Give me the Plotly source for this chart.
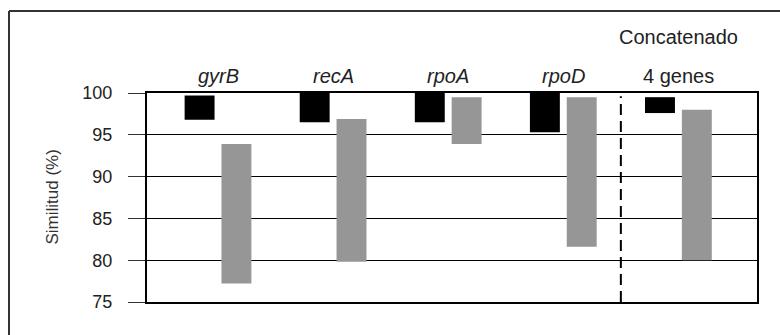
import plotly.graph_objects as go

# Gene categories along the x axis (index positions 0..4)
genes = ["gyrB", "recA", "rpoA", "rpoD", "4 genes"]
italic = [True, True, True, True, False]
group_title = "Concatenado"

# Similarity ranges (%) per gene: intra (black) and inter (gray)
black_low = [96.8, 96.5, 96.5, 95.3, 97.6]
black_high = [99.7, 100.0, 100.0, 100.0, 99.5]
gray_low = [77.2, 79.8, 93.9, 81.6, 80.0]
gray_high = [93.9, 96.9, 99.5, 99.5, 98.0]

y_ticks = [75, 80, 85, 90, 95, 100]

W, H = 780, 335
L, R, T, B = 147, 23, 93, 33
pw, ph = W - L - R, H - T - B

x = list(range(len(genes)))
bar_w = 0.26

fig = go.Figure()
fig.add_trace(go.Bar(
    x=x, y=[h - l for h, l in zip(black_high, black_low)], base=black_low,
    width=bar_w, offset=-0.16 - bar_w / 2,
    marker=dict(color="#000000", line=dict(width=0)),
    showlegend=False, hoverinfo="skip",
))
fig.add_trace(go.Bar(
    x=x, y=[h - l for h, l in zip(gray_high, gray_low)], base=gray_low,
    width=bar_w, offset=0.16 - bar_w / 2,
    marker=dict(color="#969696", line=dict(width=0)),
    showlegend=False, hoverinfo="skip",
))


def px_x(p):
    return (p - L) / pw


def px_y(p):
    return (H - B - p) / ph


annotations = []
for i, (g, it) in enumerate(zip(genes, italic)):
    annotations.append(dict(
        x=i, y=px_y(76), xref="x", yref="paper",
        text=f"<i>{g}</i>" if it else g, showarrow=False,
        font=dict(size=20, color="#222222"), xanchor="center", yanchor="middle",
    ))
annotations.append(dict(
    x=len(genes) - 1, y=px_y(37), xref="x", yref="paper",
    text=group_title, showarrow=False,
    font=dict(size=20, color="#222222"), xanchor="center", yanchor="middle",
))
annotations.append(dict(
    x=px_x(52), y=0.5, xref="paper", yref="paper",
    text="Similitud (%)", textangle=-90, showarrow=False,
    font=dict(size=17, color="#333333"), xanchor="center", yanchor="middle",
))

shapes = [
    # separator before the concatenated set
    dict(type="line", xref="x", yref="y", x0=3.5, x1=3.5, y0=75, y1=99.6,
         line=dict(color="#000000", width=2, dash="11px,6px")),
    # outer frame (left and top edges)
    dict(type="line", xref="paper", yref="paper", x0=px_x(9), x1=px_x(9),
         y0=px_y(11), y1=px_y(H + 2), line=dict(color="#333333", width=2)),
    dict(type="line", xref="paper", yref="paper", x0=px_x(9), x1=px_x(W + 2),
         y0=px_y(11), y1=px_y(11), line=dict(color="#333333", width=2)),
]

fig.update_layout(
    width=W, height=H,
    margin=dict(l=L, r=R, t=T, b=B),
    paper_bgcolor="white", plot_bgcolor="white",
    barmode="overlay",
    font=dict(family="Arial, Liberation Sans, sans-serif", color="#222222"),
    xaxis=dict(
        range=[(L - 218) / 115.1, (W - R - 218) / 115.1],
        showticklabels=False, ticks="", showgrid=False, zeroline=False,
        showline=True, mirror=True, linecolor="#000000", linewidth=2,
    ),
    yaxis=dict(
        range=[75, 100], tickvals=y_ticks, ticks="outside", ticklen=17,
        tickcolor="#333333", tickwidth=1, ticklabelstandoff=12,
        tickfont=dict(size=18, color="#222222"),
        showgrid=True, gridcolor="#000000", gridwidth=1, zeroline=False,
        showline=True, mirror=True, linecolor="#000000", linewidth=2,
    ),
    annotations=annotations,
    shapes=shapes,
)

fig.write_html("out.html")
